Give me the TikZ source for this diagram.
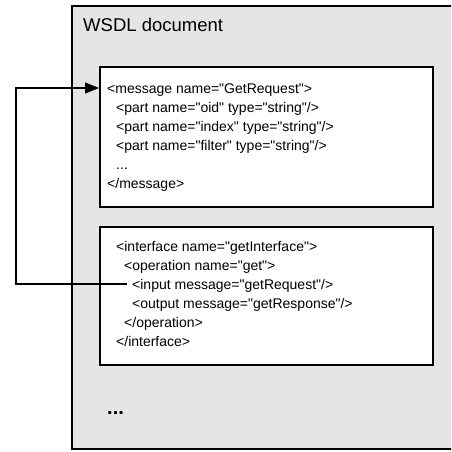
\documentclass[tikz,border=0pt]{standalone}
\usepackage{fontspec}
\setmainfont{Liberation Sans}
\newfontfamily\codefont{Liberation Sans}
\usetikzlibrary{arrows.meta}
\usetikzlibrary{positioning}
\definecolor{mgrey}{rgb}{0.898, 0.898, 0.898}
\tikzset{box/.style = {draw, line width = 1.6pt, rectangle, outer sep = 0,
                       inner sep = 0, anchor = north west}}
\tikzset{code/.style = {anchor = base west, inner sep = 0, text height = 11pt,
                        text depth = 1pt, font = \codefont\fontsize{14}{16}\selectfont}}
\tikzset{link/.style = {line width = 1.5pt, line join = miter,
                        -{Triangle[length = 14pt, width = 11pt]}}}

\begin{document}
\begin{tikzpicture}[x = 1pt, y = -1pt]
      \clip (0, 0) rectangle (451, 452);

      \node [box, fill = mgrey, minimum width = 398, minimum height = 443] (wsdl) at (72, 6) {};
      \node [anchor = base west, inner sep = 0, font = \fontsize{18.5}{22}\selectfont] (title) at (83, 32) {WSDL document};

      \node [box, fill = white, minimum width = 333, minimum height = 140] (msg) at (100, 67) {};
      \node [box, fill = white, minimum width = 333, minimum height = 138] (iface) at (100, 227) {};

      \node [code] (m1) at (107, 93) {<message name="GetRequest">};
      \node [code] (m2) at (116, 112) {<part name="oid" type="string"/>};
      \node [code] (m3) at (116, 131) {<part name="index" type="string"/>};
      \node [code] (m4) at (116, 150) {<part name="filter" type="string"/>};
      \node [code] (m5) at (116, 169) {...};
      \node [code] (m6) at (107, 188) {</message>};

      \node [code] (i1) at (116, 251) {<interface name="getInterface">};
      \node [code] (i2) at (124, 270) {<operation name="get">};
      \node [code] (i3) at (132, 289) {<input message="getRequest"/>};
      \node [code] (i4) at (132, 308) {<output message="getResponse"/>};
      \node [code] (i5) at (124, 327) {</operation>};
      \node [code] (i6) at (116, 346) {</interface>};

      \node [anchor = base west, inner sep = 0, font = \fontsize{20}{22}\selectfont\bfseries] (more) at (107, 414) {...};

      \coordinate (turn) at (16, 88);
      \draw [link, shorten <= 5pt, shorten >= 1pt] (i3.west) -| (turn) -- (msg.west |- m1);
    \end{tikzpicture}
\end{document}
